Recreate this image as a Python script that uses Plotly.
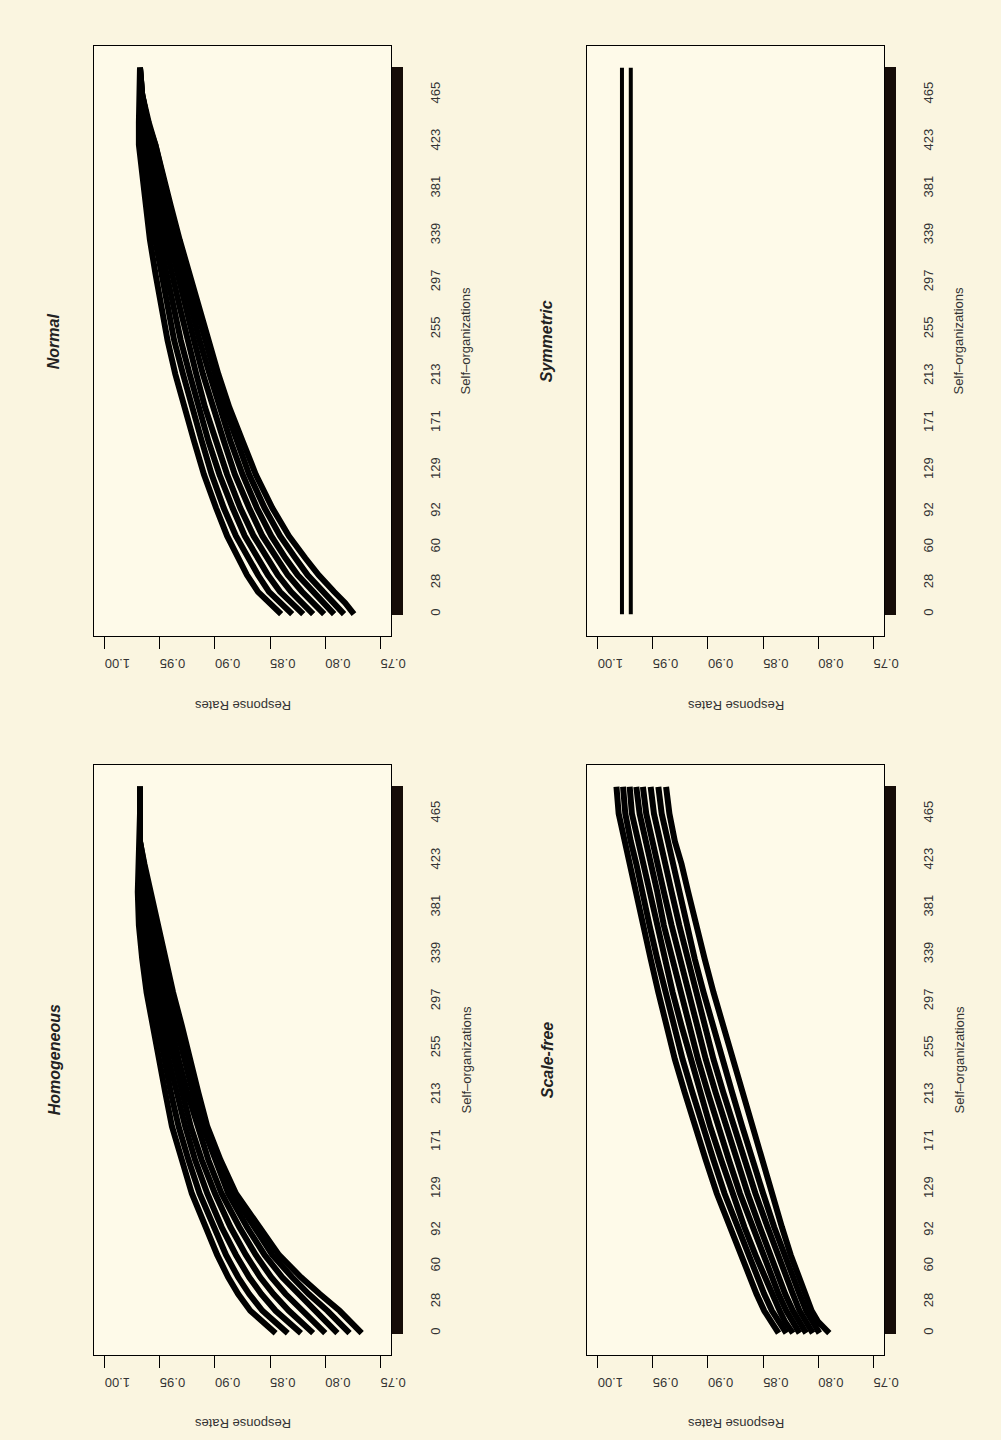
import plotly.graph_objects as go

# ---------------- data ----------------
N_MAX = 489
S_POINTS = [0, 10, 20, 35, 50, 70, 95, 125, 155, 185, 215, 245, 275, 305, 335, 365, 395, 420, 440, 465, 489]
AXIS_LABELS = [0, 28, 60, 92, 129, 171, 213, 255, 297, 339, 381, 423, 465]
RATE_TICKS = [0.75, 0.80, 0.85, 0.90, 0.95, 1.00]

NORMAL_1 = [0.840, 0.851, 0.861, 0.871, 0.879, 0.889, 0.899, 0.910, 0.919, 0.928, 0.936, 0.943, 0.949, 0.954, 0.959, 0.963, 0.967, 0.969, 0.969, 0.968, 0.968]
NORMAL_2 = [0.830, 0.841, 0.851, 0.861, 0.870, 0.881, 0.892, 0.903, 0.912, 0.921, 0.929, 0.937, 0.943, 0.949, 0.955, 0.960, 0.964, 0.967, 0.968, 0.968, 0.968]
NORMAL_3 = [0.820, 0.831, 0.841, 0.852, 0.861, 0.873, 0.884, 0.896, 0.906, 0.915, 0.923, 0.931, 0.938, 0.944, 0.950, 0.956, 0.961, 0.965, 0.967, 0.968, 0.968]
NORMAL_4 = [0.811, 0.821, 0.831, 0.843, 0.853, 0.865, 0.877, 0.889, 0.899, 0.909, 0.917, 0.925, 0.932, 0.939, 0.946, 0.952, 0.957, 0.962, 0.965, 0.968, 0.968]
NORMAL_5 = [0.801, 0.811, 0.821, 0.834, 0.844, 0.857, 0.869, 0.882, 0.892, 0.902, 0.911, 0.919, 0.927, 0.934, 0.941, 0.948, 0.953, 0.959, 0.963, 0.967, 0.968]
NORMAL_6 = [0.792, 0.801, 0.811, 0.825, 0.836, 0.849, 0.862, 0.875, 0.886, 0.896, 0.905, 0.914, 0.922, 0.929, 0.937, 0.944, 0.950, 0.956, 0.961, 0.966, 0.968]
NORMAL_7 = [0.783, 0.792, 0.802, 0.816, 0.827, 0.841, 0.855, 0.869, 0.880, 0.891, 0.900, 0.909, 0.918, 0.926, 0.934, 0.941, 0.948, 0.954, 0.960, 0.966, 0.968]
NORMAL_8 = [0.774, 0.782, 0.792, 0.806, 0.818, 0.833, 0.848, 0.863, 0.875, 0.887, 0.897, 0.906, 0.915, 0.924, 0.932, 0.940, 0.947, 0.954, 0.961, 0.966, 0.968]

HOMOG_1 = [0.845, 0.857, 0.868, 0.879, 0.888, 0.898, 0.909, 0.921, 0.930, 0.939, 0.945, 0.951, 0.957, 0.962, 0.966, 0.969, 0.970, 0.969, 0.968, 0.968, 0.968]
HOMOG_2 = [0.834, 0.846, 0.857, 0.869, 0.879, 0.890, 0.901, 0.914, 0.924, 0.933, 0.940, 0.946, 0.952, 0.958, 0.963, 0.967, 0.969, 0.968, 0.968, 0.968, 0.968]
HOMOG_3 = [0.822, 0.834, 0.845, 0.858, 0.869, 0.881, 0.894, 0.907, 0.918, 0.927, 0.935, 0.942, 0.948, 0.954, 0.960, 0.964, 0.967, 0.968, 0.968, 0.968, 0.968]
HOMOG_4 = [0.811, 0.822, 0.833, 0.847, 0.859, 0.872, 0.886, 0.900, 0.912, 0.922, 0.930, 0.937, 0.944, 0.951, 0.957, 0.962, 0.965, 0.968, 0.968, 0.968, 0.968]
HOMOG_5 = [0.800, 0.810, 0.821, 0.836, 0.849, 0.863, 0.878, 0.894, 0.906, 0.916, 0.925, 0.933, 0.940, 0.947, 0.953, 0.959, 0.963, 0.967, 0.968, 0.968, 0.968]
HOMOG_6 = [0.789, 0.799, 0.809, 0.825, 0.839, 0.855, 0.871, 0.888, 0.900, 0.911, 0.920, 0.928, 0.936, 0.943, 0.950, 0.956, 0.961, 0.966, 0.968, 0.968, 0.968]
HOMOG_7 = [0.778, 0.788, 0.798, 0.815, 0.830, 0.848, 0.865, 0.884, 0.897, 0.909, 0.918, 0.925, 0.933, 0.941, 0.948, 0.954, 0.960, 0.965, 0.968, 0.968, 0.968]
HOMOG_8 = [0.767, 0.777, 0.787, 0.805, 0.822, 0.842, 0.860, 0.881, 0.895, 0.907, 0.915, 0.922, 0.930, 0.938, 0.945, 0.952, 0.958, 0.964, 0.968, 0.968, 0.968]

SCALEFREE_1 = [0.836, 0.843, 0.849, 0.856, 0.862, 0.871, 0.881, 0.892, 0.902, 0.912, 0.921, 0.930, 0.938, 0.945, 0.952, 0.959, 0.965, 0.971, 0.976, 0.981, 0.983]
SCALEFREE_2 = [0.829, 0.836, 0.842, 0.849, 0.855, 0.864, 0.874, 0.885, 0.895, 0.905, 0.914, 0.923, 0.931, 0.939, 0.946, 0.953, 0.959, 0.965, 0.970, 0.975, 0.977]
SCALEFREE_3 = [0.823, 0.830, 0.835, 0.842, 0.848, 0.857, 0.867, 0.878, 0.888, 0.898, 0.907, 0.916, 0.924, 0.932, 0.939, 0.946, 0.953, 0.959, 0.964, 0.969, 0.971]
SCALEFREE_4 = [0.817, 0.823, 0.829, 0.836, 0.842, 0.850, 0.860, 0.871, 0.881, 0.891, 0.900, 0.909, 0.917, 0.925, 0.932, 0.940, 0.946, 0.952, 0.957, 0.962, 0.965]
SCALEFREE_5 = [0.811, 0.817, 0.823, 0.830, 0.836, 0.844, 0.853, 0.864, 0.874, 0.884, 0.893, 0.902, 0.910, 0.918, 0.926, 0.933, 0.940, 0.946, 0.951, 0.956, 0.959]
SCALEFREE_6 = [0.805, 0.811, 0.817, 0.823, 0.829, 0.837, 0.846, 0.857, 0.867, 0.877, 0.886, 0.895, 0.903, 0.911, 0.919, 0.926, 0.933, 0.939, 0.944, 0.949, 0.952]
SCALEFREE_7 = [0.799, 0.805, 0.811, 0.817, 0.823, 0.831, 0.840, 0.850, 0.860, 0.869, 0.878, 0.887, 0.896, 0.904, 0.912, 0.919, 0.926, 0.932, 0.937, 0.942, 0.945]
SCALEFREE_8 = [0.790, 0.800, 0.806, 0.812, 0.818, 0.825, 0.833, 0.842, 0.851, 0.860, 0.869, 0.878, 0.887, 0.895, 0.903, 0.911, 0.918, 0.924, 0.930, 0.935, 0.938]

SYM_S = [0, 489]
SYMMETRIC_1 = [0.978, 0.978]
SYMMETRIC_2 = [0.970, 0.970]

# ---------------- layout ----------------
W, H = 1001, 1440
COLS = [(95, 397), (595, 897)]
ROWS = [(46, 636), (765, 1355)]
FONT = "Liberation Sans, Arial, Helvetica, sans-serif"

NORMAL = [NORMAL_1, NORMAL_2, NORMAL_3, NORMAL_4, NORMAL_5, NORMAL_6, NORMAL_7, NORMAL_8]
HOMOG = [HOMOG_1, HOMOG_2, HOMOG_3, HOMOG_4, HOMOG_5, HOMOG_6, HOMOG_7, HOMOG_8]
SCALEFREE = [SCALEFREE_1, SCALEFREE_2, SCALEFREE_3, SCALEFREE_4, SCALEFREE_5, SCALEFREE_6, SCALEFREE_7, SCALEFREE_8]

panels = [
    ("Normal", 0, 0, [(S_POINTS, v) for v in NORMAL], 6),
    ("Symmetric", 0, 1, [(SYM_S, SYMMETRIC_1), (SYM_S, SYMMETRIC_2)], 4),
    ("Homogeneous", 1, 0, [(S_POINTS, v) for v in HOMOG], 6),
    ("Scale-free", 1, 1, [(S_POINTS, v) for v in SCALEFREE], 6),
]

fig = go.Figure()
annotations = []
all_ticks = list(range(0, N_MAX + 1))
tick_text = [str(t) if t in AXIS_LABELS else "" for t in all_ticks]
pad = 0.04 * N_MAX

for i, (title, r, c, series, lw) in enumerate(panels, start=1):
    x0, x1 = COLS[c]
    y0, y1 = ROWS[r]
    xa = "x" if i == 1 else f"x{i}"
    ya = "y" if i == 1 else f"y{i}"
    for s_vals, rates in series:
        fig.add_trace(go.Scatter(x=rates, y=s_vals, mode="lines",
                                 line=dict(color="black", width=lw),
                                 xaxis=xa, yaxis=ya, showlegend=False, hoverinfo="skip"))
    fig.layout[f"xaxis{'' if i == 1 else i}"] = dict(
        domain=[x0 / W, x1 / W], anchor=ya, range=[1.01, 0.74],
        tickvals=RATE_TICKS, ticktext=[f"{t:.2f}" for t in RATE_TICKS],
        ticks="outside", ticklen=12, tickwidth=1, tickcolor="black",
        tickangle=180, ticklabelstandoff=7,
        tickfont=dict(family=FONT, size=13, color="#333333"),
        showline=True, mirror=True, linecolor="black", linewidth=1,
        showgrid=False, zeroline=False, fixedrange=True)
    fig.layout[f"yaxis{'' if i == 1 else i}"] = dict(
        domain=[1 - y1 / H, 1 - y0 / H], anchor=xa, side="right",
        range=[-pad, N_MAX + pad],
        tickvals=all_ticks, ticktext=tick_text,
        ticks="outside", ticklen=11, tickwidth=2, tickcolor="#150c08",
        tickangle=-90, ticklabelstandoff=21,
        tickfont=dict(family=FONT, size=13, color="#333333"),
        showline=True, mirror=True, linecolor="black", linewidth=1,
        showgrid=False, zeroline=False, fixedrange=True)
    cy = (y0 + y1) / 2
    cx = (x0 + x1) / 2
    annotations.append(dict(text=f"<b><i>{title}</i></b>", x=(x0 - 40) / W, y=1 - cy / H,
                            xref="paper", yref="paper", showarrow=False, textangle=-90,
                            xanchor="center", yanchor="middle",
                            font=dict(family=FONT, size=16, color="#222222")))
    annotations.append(dict(text="Self\u2013organizations", x=(x1 + 76) / W, y=1 - cy / H,
                            xref="paper", yref="paper", showarrow=False, textangle=-90,
                            xanchor="center", yanchor="middle",
                            font=dict(family=FONT, size=13, color="#333333")))
    annotations.append(dict(text="Response Rates", x=cx / W, y=1 - (y1 + 69) / H,
                            xref="paper", yref="paper", showarrow=False, textangle=180,
                            xanchor="center", yanchor="middle",
                            font=dict(family=FONT, size=13, color="#333333")))

fig.update_layout(width=W, height=H, margin=dict(l=0, r=0, t=0, b=0),
                  paper_bgcolor="#FAF5E0", plot_bgcolor="#FEFAE9",
                  annotations=annotations, showlegend=False)

fig.write_html("out.html")
